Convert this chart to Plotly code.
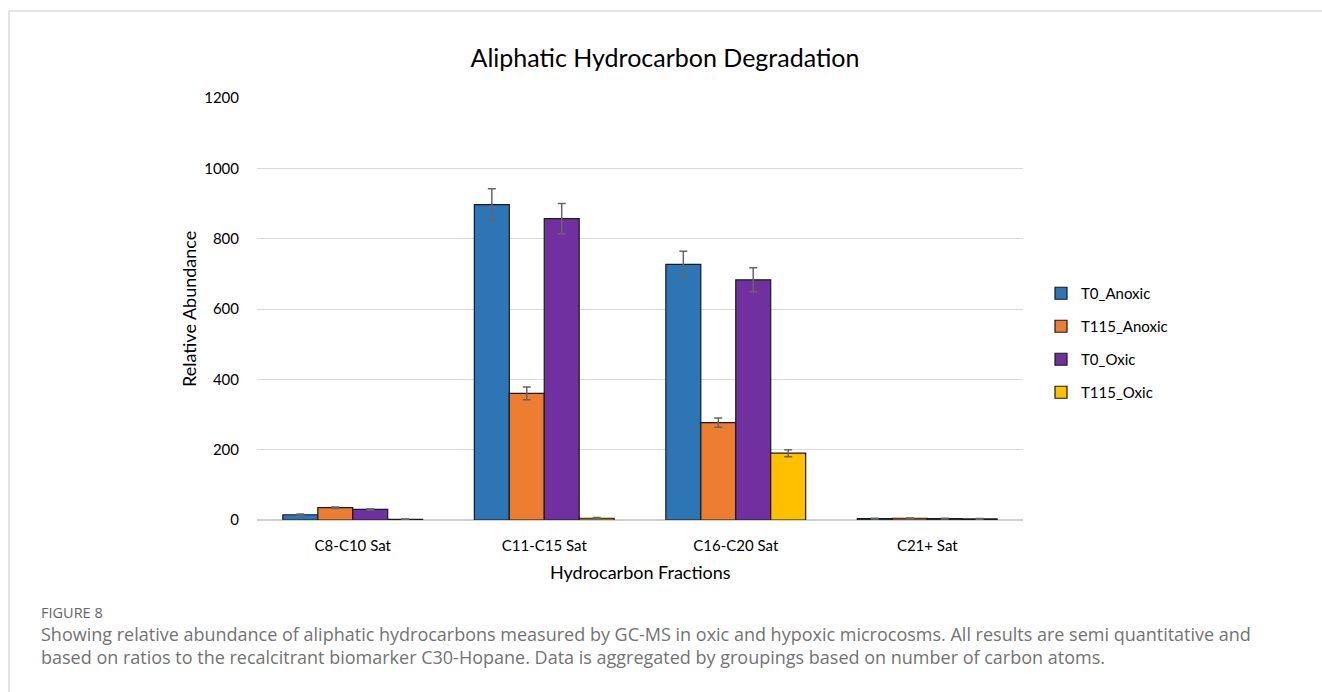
import plotly.graph_objects as go

# Hydrocarbon fractions (x categories)
fractions = ["C8-C10 Sat", "C11-C15 Sat", "C16-C20 Sat", "C21+ Sat"]

# Mean relative abundance per treatment
t0_anoxic = [15, 897, 727, 4]
t115_anoxic = [35, 360, 277, 5]
t0_oxic = [30, 857, 683, 4]
t115_oxic = [2, 5, 190, 3]

# Error bar half-widths
t0_anoxic_err = [2, 45, 37, 1]
t115_anoxic_err = [2, 18, 13, 1]
t0_oxic_err = [2, 43, 34, 1]
t115_oxic_err = [1, 2, 10, 1]

series = [
    ("T0_Anoxic", t0_anoxic, t0_anoxic_err, "#2E75B6"),
    ("T115_Anoxic", t115_anoxic, t115_anoxic_err, "#ED7D31"),
    ("T0_Oxic", t0_oxic, t0_oxic_err, "#7030A0"),
    ("T115_Oxic", t115_oxic, t115_oxic_err, "#FFC000"),
]

FONT = "Lato, Carlito, Calibri, sans-serif"
CAPTION_FONT = "Open Sans, sans-serif"

# Plot-area geometry in pixels (used to place page furniture in paper units)
W, H = 1322, 692
L, R, T, B = 257, 1023, 98, 520


def px_x(x):
    return (x - L) / (R - L)


def px_y(y):
    return (B - y) / (B - T)


fig = go.Figure()
for i, (name, vals, errs, color) in enumerate(series):
    fig.add_trace(go.Bar(
        name=name,
        x=fractions,
        y=vals,
        marker=dict(color=color, line=dict(color="#1a1a1a", width=1.2)),
        error_y=dict(type="data", array=errs, visible=True,
                     color="#666666", thickness=1.5, width=4),
        legendgroup=f"g{i}",
    ))

fig.update_layout(
    width=W, height=H,
    margin=dict(l=L, r=W - R, t=T, b=H - B, pad=0),
    paper_bgcolor="white",
    plot_bgcolor="white",
    barmode="group",
    bargap=0.27,
    bargroupgap=0,
    font=dict(family=FONT, size=15, color="#000000"),
    title=dict(
        text="Aliphatic Hydrocarbon Degradation",
        font=dict(family=FONT, size=25, color="#000000"),
        x=px_x(665), xref="paper", xanchor="center",
        y=1 - 58 / H, yref="container", yanchor="middle",
    ),
    legend=dict(
        x=px_x(1041), y=px_y(277), xanchor="left", yanchor="top",
        traceorder="grouped", tracegroupgap=10.5,
        font=dict(family=FONT, size=15),
        itemwidth=30,
        bgcolor="rgba(0,0,0,0)",
    ),
    showlegend=True,
)

fig.update_xaxes(
    showgrid=False, showline=False, zeroline=False,
    ticks="outside", ticklen=12, tickcolor="rgba(0,0,0,0)",
    tickfont=dict(family=FONT, size=15),
)
fig.update_yaxes(
    range=[0, 1200], dtick=200,
    showgrid=True, gridcolor="#d9d9d9", gridwidth=1,
    zeroline=True, zerolinecolor="#d0d0d0", zerolinewidth=1.5,
    showline=False,
    ticks="outside", ticklen=14, tickcolor="rgba(0,0,0,0)",
    tickfont=dict(family=FONT, size=15),
)

# Axis titles
fig.add_annotation(
    text="Relative Abundance", xref="paper", yref="paper",
    x=px_x(189), y=px_y(309), textangle=-90, showarrow=False,
    font=dict(family=FONT, size=18, color="#000000"),
    xanchor="center", yanchor="middle",
)
fig.add_annotation(
    text="Hydrocarbon Fractions", xref="paper", yref="paper",
    x=px_x(640), y=px_y(572), showarrow=False,
    font=dict(family=FONT, size=18, color="#000000"),
    xanchor="center", yanchor="middle",
)

# Figure caption
fig.add_annotation(
    text="FIGURE 8", xref="paper", yref="paper",
    x=px_x(39), y=px_y(612), showarrow=False,
    font=dict(family=CAPTION_FONT, size=14.5, color="#666666"),
    xanchor="left", yanchor="middle",
)
caption_lines = [
    "Showing relative abundance of aliphatic hydrocarbons measured by GC-MS in oxic and hypoxic microcosms. All results are semi quantitative and",
    "based on ratios to the recalcitrant biomarker C30-Hopane. Data is aggregated by groupings based on number of carbon atoms.",
]
for line, yc in zip(caption_lines, [634, 657]):
    fig.add_annotation(
        text=line, xref="paper", yref="paper",
        x=px_x(39), y=px_y(yc), showarrow=False,
        font=dict(family=CAPTION_FONT, size=18, color="#737373"),
        xanchor="left", yanchor="middle",
    )

# Thin frame around the figure panel
fig.add_shape(
    type="path", xref="paper", yref="paper",
    path=f"M {px_x(9)},{px_y(H + 5)} L {px_x(9)},{px_y(11)} L {px_x(W + 5)},{px_y(11)}",
    line=dict(color="#cccccc", width=1),
)

fig.write_html("out.html")
